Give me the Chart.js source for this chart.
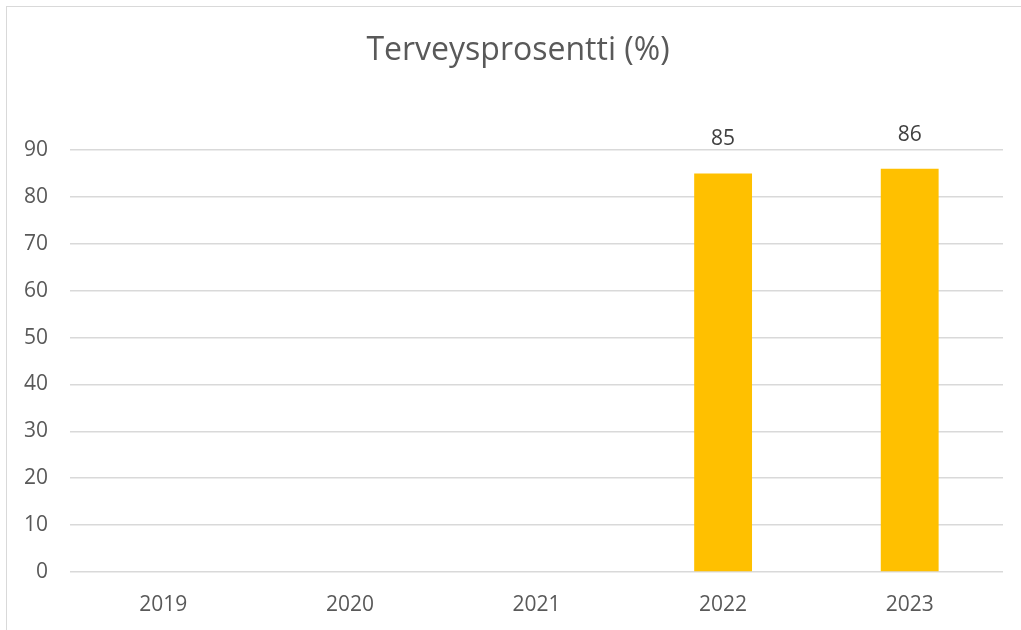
<!DOCTYPE html>
<html>
<head>
<meta charset="utf-8">
<script src="https://cdn.jsdelivr.net/npm/chart.js@4/dist/chart.umd.min.js"></script>
<style>
  body { margin: 0; background: #fff; overflow: hidden; }
  #wrap { position: relative; width: 1021px; height: 630px; }
  #frame { position: absolute; left: 6px; top: 6px; width: 1100px; height: 700px; border: 1px solid #d9d9d9; }
  canvas { position: absolute; left: 0; top: 0; }
</style>
</head>
<body>
<div id="wrap">
  <div id="frame"></div>
  <canvas id="chart" width="1021" height="630"></canvas>
</div>
<script>
const years = ['2019', '2020', '2021', '2022', '2023'];
const healthPct = [null, null, null, 85, 86];
const yTicks = [0, 10, 20, 30, 40, 50, 60, 70, 80, 90];
const chartTitle = 'Terveysprosentti (%)';

// draws the value above each bar
const valueLabels = {
    id: 'valueLabels',
    afterDatasetsDraw(chart) {
        const ctx = chart.ctx;
        const meta = chart.getDatasetMeta(0);
        ctx.save();
        ctx.font = '21px "Open Sans"';
        ctx.fillStyle = '#404040';
        ctx.textAlign = 'center';
        ctx.textBaseline = 'middle';
        meta.data.forEach(function (bar, i) {
            const v = healthPct[i];
            if (v === null) return;
            ctx.fillText(String(v), bar.x, bar.y - 34);
        });
        ctx.restore();
    }
};

// title sits a bit right of the canvas centre, like the original
const titlePlugin = {
    id: 'titlePlugin',
    afterDraw(chart) {
        const ctx = chart.ctx;
        ctx.save();
        ctx.font = '32px "Open Sans"';
        ctx.fillStyle = '#595959';
        ctx.textAlign = 'center';
        ctx.textBaseline = 'middle';
        ctx.fillText(chartTitle, 518, 51);
        ctx.restore();
    }
};

new Chart(document.getElementById('chart'), {
    type: 'bar',
    data: {
        labels: years,
        datasets: [{
            label: chartTitle,
            data: healthPct,
            backgroundColor: '#FFC000',
            categoryPercentage: 1,
            barPercentage: 0.31
        }]
    },
    options: {
        responsive: false,
        animation: false,
        devicePixelRatio: 1,
        layout: { padding: { left: 0, right: 18, top: 150, bottom: 0 } },
        plugins: {
            legend: { display: false },
            tooltip: { enabled: false },
            title: { display: false }
        },
        scales: {
            x: {
                grid: { display: false, drawTicks: false },
                border: { display: false },
                ticks: { color: '#595959', font: { family: 'Open Sans', size: 21 }, padding: 20, maxRotation: 0 },
                afterFit(scale) { scale.height = 58; }
            },
            y: {
                min: 0,
                max: 90,
                afterBuildTicks(scale) { scale.ticks = yTicks.map(v => ({ value: v })); },
                grid: { color: '#d9d9d9', lineWidth: 1.5, drawTicks: false },
                border: { display: false },
                ticks: { color: '#595959', font: { family: 'Open Sans', size: 21 }, padding: 22 },
                afterFit(scale) { scale.width = 70; }
            }
        }
    },
    plugins: [valueLabels, titlePlugin]
});
</script>
</body>
</html>
